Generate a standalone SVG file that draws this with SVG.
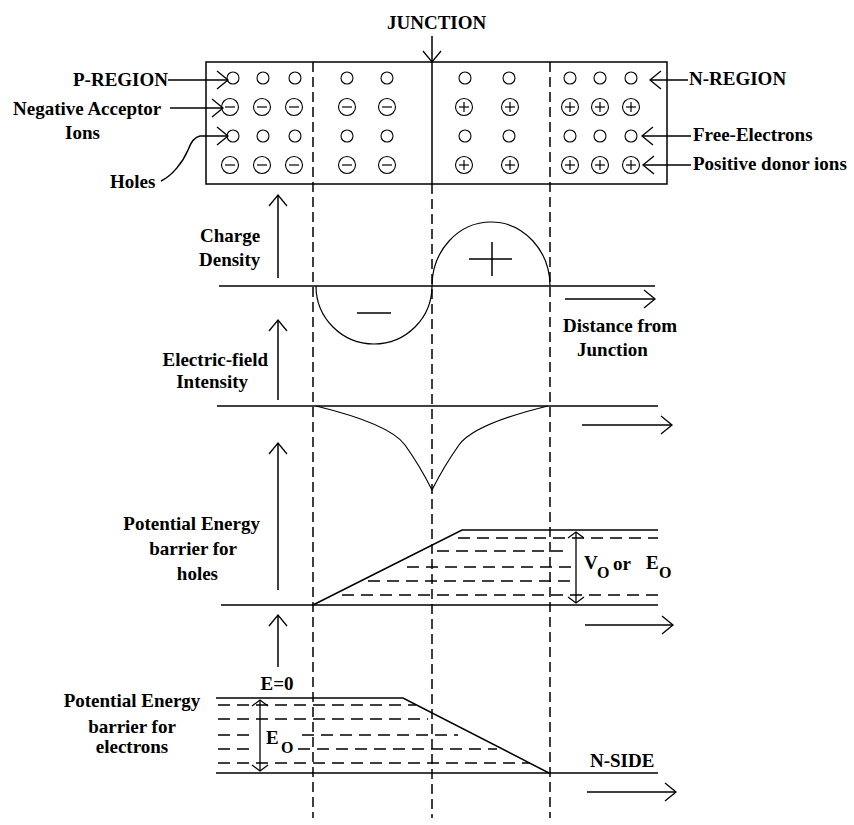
<svg xmlns="http://www.w3.org/2000/svg" width="854" height="825" viewBox="0 0 854 825">
<style>
  text { font-family: "Liberation Serif", "Times New Roman", "DejaVu Serif", serif; font-weight: bold; font-size: 19px; fill: #000; }
  .sub { font-size: 16px; }
  .ln { stroke: #000; stroke-width: 1.5; fill: none; }
  .thin { stroke: #000; stroke-width: 1.2; fill: none; }
  .vd { stroke: #000; stroke-width: 1.5; stroke-dasharray: 10 5; fill: none; }
  .hd { stroke: #000; stroke-width: 1.3; stroke-dasharray: 12 7; fill: none; }
  .circ { stroke: #000; stroke-width: 1.1; fill: #fff; }
  .arr { stroke: #000; stroke-width: 1.5; fill: none; marker-end: url(#ah); }
  .darr { stroke: #000; stroke-width: 1.3; fill: none; marker-start: url(#ahs); marker-end: url(#ahs); }
</style>
<defs>
  <marker id="ah" viewBox="-14 -12 16 24" markerUnits="userSpaceOnUse" markerWidth="16" markerHeight="24" refX="0" refY="0" orient="auto" overflow="visible">
    <path d="M-11,-9 L0,0 L-11,9" fill="none" stroke="#000" stroke-width="1.3"/>
  </marker>
  <marker id="ahs" viewBox="-10 -10 12 20" markerUnits="userSpaceOnUse" markerWidth="12" markerHeight="20" refX="0" refY="0" orient="auto-start-reverse" overflow="visible">
    <path d="M-6,-8 L0,0 L-6,8" fill="none" stroke="#000" stroke-width="1.2"/>
  </marker>
  <g id="hole"><circle r="6" class="circ"/></g>
  <g id="neg"><circle r="8.5" class="circ"/><line x1="-5" y1="0" x2="5" y2="0" stroke="#000" stroke-width="1.2"/></g>
  <g id="pos"><circle r="8.5" class="circ"/><line x1="-5" y1="0" x2="5" y2="0" stroke="#000" stroke-width="1.2"/><line x1="0" y1="-5" x2="0" y2="5" stroke="#000" stroke-width="1.2"/></g>
</defs>

<!-- vertical guide lines -->
<g id="guides">
  <line class="vd" x1="313" y1="62" x2="313" y2="818"/>
  <line class="vd" x1="550" y1="62" x2="550" y2="818"/>
  <line class="ln" x1="432" y1="62" x2="432" y2="184"/>
  <line class="vd" x1="432" y1="184" x2="432" y2="818"/>
</g>

<!-- crystal block -->
<g id="crystal">
  <rect x="206" y="62" width="461" height="122" class="ln"/>
  <g id="p-side">
    <use href="#hole" x="233" y="78"/><use href="#hole" x="263" y="78"/><use href="#hole" x="295" y="78"/><use href="#hole" x="347" y="78"/><use href="#hole" x="387" y="78"/>
    <use href="#neg" x="230" y="107"/><use href="#neg" x="262" y="107"/><use href="#neg" x="294" y="107"/><use href="#neg" x="347" y="107"/><use href="#neg" x="387" y="107"/>
    <use href="#hole" x="233" y="136"/><use href="#hole" x="263" y="136"/><use href="#hole" x="295" y="136"/><use href="#hole" x="347" y="136"/><use href="#hole" x="387" y="136"/>
    <use href="#neg" x="230" y="165"/><use href="#neg" x="262" y="165"/><use href="#neg" x="294" y="165"/><use href="#neg" x="347" y="165"/><use href="#neg" x="387" y="165"/>
  </g>
  <g id="n-side">
    <use href="#hole" x="465" y="78"/><use href="#hole" x="509" y="78"/><use href="#hole" x="570" y="78"/><use href="#hole" x="600" y="78"/><use href="#hole" x="631" y="78"/>
    <use href="#pos" x="464" y="107"/><use href="#pos" x="510" y="107"/><use href="#pos" x="570" y="107"/><use href="#pos" x="600" y="107"/><use href="#pos" x="631" y="107"/>
    <use href="#hole" x="465" y="136"/><use href="#hole" x="509" y="136"/><use href="#hole" x="570" y="136"/><use href="#hole" x="600" y="136"/><use href="#hole" x="631" y="136"/>
    <use href="#pos" x="464" y="165"/><use href="#pos" x="510" y="165"/><use href="#pos" x="570" y="165"/><use href="#pos" x="600" y="165"/><use href="#pos" x="631" y="165"/>
  </g>
</g>

<!-- labels -->
<g id="labels">
  <text x="387" y="29">JUNCTION</text>
  <text x="73" y="86">P-REGION</text>
  <text x="13" y="115">Negative Acceptor</text>
  <text x="65" y="139">Ions</text>
  <text x="110" y="188">Holes</text>
  <text x="689" y="85">N-REGION</text>
  <text x="693" y="141">Free-Electrons</text>
  <text x="693" y="170">Positive donor ions</text>
</g>

<!-- charge density -->
<g id="charge-density">
  <text x="200" y="242">Charge</text>
  <text x="199" y="266">Density</text>
  <line class="ln" x1="219" y1="286" x2="655" y2="286"/>
  <path class="thin" d="M316,286 A58,58 0 0 0 432,286"/>
  <path class="thin" d="M432,286 A59,64 0 0 1 550,286"/>
  <line class="ln" x1="357" y1="313" x2="391" y2="313"/>
  <line class="ln" x1="469" y1="259" x2="512" y2="259"/>
  <line class="ln" x1="492" y1="242" x2="492" y2="276"/>
  <text x="563" y="332">Distance from</text>
  <text x="577" y="356">Junction</text>
</g>

<!-- electric field -->
<g id="electric-field">
  <text x="268" y="366" text-anchor="end">Electric-field</text>
  <text x="248" y="388" text-anchor="end">Intensity</text>
  <line class="ln" x1="217" y1="406" x2="658" y2="406"/>
  <path class="thin" d="M316,406 Q390,424 405,445 Q420,466 432,490 Q444,466 459,445 Q474,424 548,406"/>
</g>

<!-- potential energy for holes -->
<g id="pe-holes">
  <text x="260" y="530" text-anchor="end">Potential Energy</text>
  <text x="237" y="555" text-anchor="end">barrier for</text>
  <text x="218" y="580" text-anchor="end">holes</text>
  <line class="ln" x1="221" y1="605" x2="658" y2="605"/>
  <polyline class="ln" points="313,605 462,530 658,530"/>
  <line class="hd" x1="458" y1="538" x2="658" y2="538"/>
  <line class="hd" x1="437" y1="551" x2="570" y2="551"/>
  <line class="hd" x1="407" y1="567" x2="574" y2="567"/>
  <line class="hd" x1="368" y1="581" x2="570" y2="581"/>
  <line class="hd" x1="342" y1="595" x2="658" y2="595"/>
  <text x="584" y="569">V</text><text class="sub" x="597" y="578">O</text>
  <text x="613" y="570">or</text>
  <text x="646" y="569">E</text><text class="sub" x="659" y="578">O</text>
</g>

<!-- potential energy for electrons -->
<g id="pe-electrons">
  <text x="277" y="690" text-anchor="middle">E=0</text>
  <text x="132" y="707" text-anchor="middle">Potential Energy</text>
  <text x="132" y="733" text-anchor="middle">barrier for</text>
  <text x="132" y="753" text-anchor="middle">electrons</text>
  <polyline class="ln" points="216,698 403,698 549,773"/>
  <line class="ln" x1="216" y1="773" x2="658" y2="773"/>
  <line class="hd" x1="218" y1="705" x2="416" y2="705"/>
  <line class="hd" x1="218" y1="719" x2="428" y2="719"/>
  <line class="hd" x1="218" y1="735" x2="252" y2="735"/>
  <line class="hd" x1="302" y1="735" x2="458" y2="735"/>
  <line class="hd" x1="218" y1="749" x2="252" y2="749"/>
  <line class="hd" x1="298" y1="749" x2="497" y2="749"/>
  <line class="hd" x1="218" y1="763" x2="530" y2="763"/>
  <text x="266" y="744">E</text><text class="sub" x="281" y="753">O</text>
  <text x="590" y="767">N-SIDE</text>
</g>

<!-- connectors / arrows -->
<g id="connectors">
  <line class="arr" x1="432" y1="36" x2="432" y2="62"/>
  <line class="arr" x1="168" y1="80" x2="228" y2="80"/>
  <line class="arr" x1="170" y1="108" x2="223" y2="108"/>
  <path class="arr" d="M161,181 C172,176 183,162 188,150 C191,142 194,137 200,136 L228,136"/>
  <line class="arr" x1="688" y1="80" x2="650" y2="80"/>
  <line class="arr" x1="691" y1="136" x2="642" y2="136"/>
  <line class="arr" x1="691" y1="165" x2="643" y2="165"/>
  <line class="arr" x1="278" y1="278" x2="278" y2="195"/>
  <line class="arr" x1="565" y1="299" x2="655" y2="299"/>
  <line class="arr" x1="278" y1="400" x2="278" y2="320"/>
  <line class="arr" x1="582" y1="425" x2="672" y2="425"/>
  <line class="arr" x1="278" y1="590" x2="278" y2="443"/>
  <line class="darr" x1="576" y1="532" x2="576" y2="603"/>
  <line class="arr" x1="585" y1="625" x2="673" y2="625"/>
  <line class="arr" x1="278" y1="667" x2="278" y2="615"/>
  <line class="darr" x1="260" y1="700" x2="260" y2="771"/>
  <line class="arr" x1="587" y1="792" x2="676" y2="792"/>
</g>
</svg>
